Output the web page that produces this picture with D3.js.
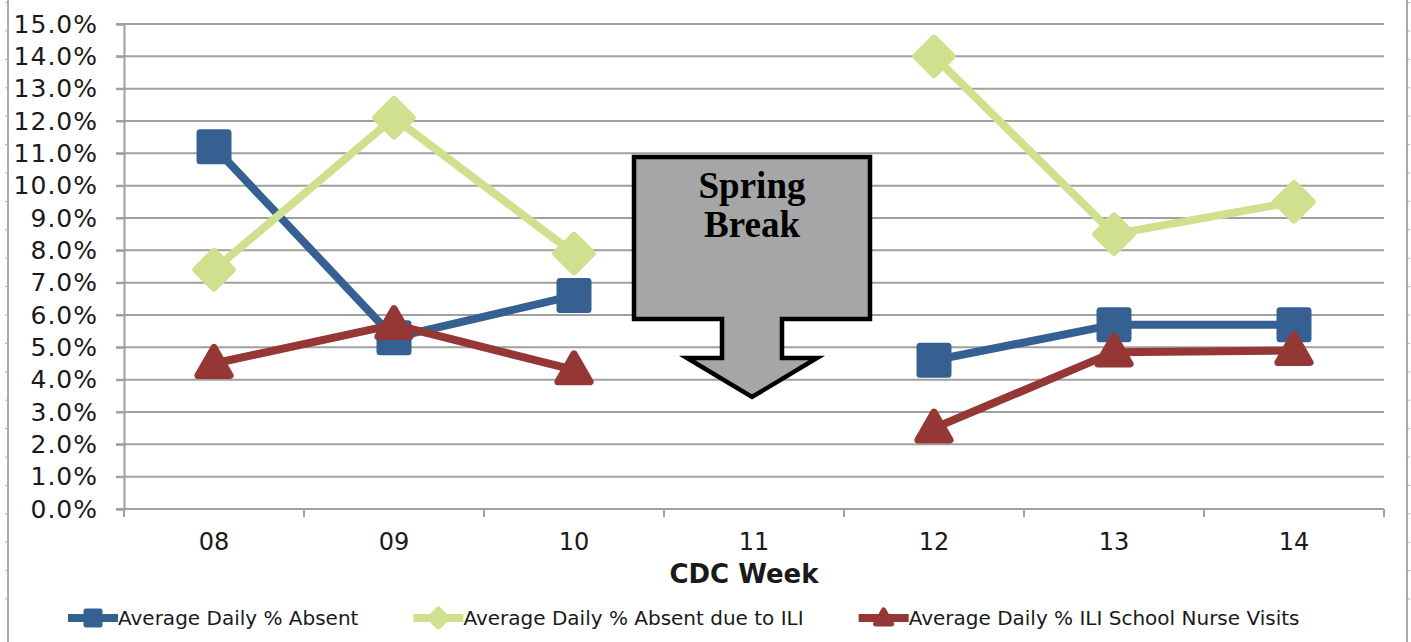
<!DOCTYPE html>
<html>
<head>
<meta charset="utf-8">
<script src="https://cdn.jsdelivr.net/npm/d3@7"></script>
<style>
  body { margin: 0; background: #fff; }
  svg { display: block; }
  text { font-family: "DejaVu Sans", Verdana, sans-serif; fill: #1a1a1a; }
</style>
</head>
<body>
<svg id="chart" width="1411" height="642"></svg>
<script>
// data (percent values, null = no school)
var weeks = ["08", "09", "10", "11", "12", "13", "14"];
var absent = [11.2, 5.3, 6.6, null, 4.6, 5.7, 5.7];
var absentILI = [7.4, 12.1, 7.9, null, 14.0, 8.5, 9.5];
var nurseILI = [4.5, 5.7, 4.3, null, 2.5, 4.85, 4.9];
var yTicks = [0, 1, 2, 3, 4, 5, 6, 7, 8, 9, 10, 11, 12, 13, 14, 15];
var seriesNames = ["Average Daily % Absent", "Average Daily % Absent due to ILI", "Average Daily % ILI School Nurse Visits"];


var svg = d3.select("#chart");

var plotLeft = 124, plotRight = 1384, plotTop = 24, plotBottom = 509;

var x = d3.scaleBand()
  .domain(weeks)
  .range([plotLeft, plotRight]);

var y = d3.scaleLinear()
  .domain([0, 15])
  .range([plotBottom, plotTop]);

function xc(w) { return x(w) + x.bandwidth() / 2; }


/* page frame edges with their little ruler ticks */
function frameEdge(xPos, dir)
{
  var g = svg.append("g");
  g.append("line")
    .attr("x1", xPos).attr("x2", xPos)
    .attr("y1", 0).attr("y2", 642)
    .attr("stroke", "#8c8c8c").attr("stroke-width", 1.5);
  g.selectAll(".rt")
    .data(d3.range(0, 22))
    .join("line")
    .attr("x1", xPos).attr("x2", xPos + dir * 3)
    .attr("y1", function(i) { return 2.6 + i * 28.4; })
    .attr("y2", function(i) { return 2.6 + i * 28.4; })
    .attr("stroke", "#b0b0b0").attr("stroke-width", 1);
}
frameEdge(8, -1);
frameEdge(1407, 1);


/* gridlines */
svg.append("g")
  .selectAll("line")
  .data(yTicks)
  .join("line")
  .attr("x1", plotLeft - 8)
  .attr("x2", plotRight)
  .attr("y1", function(d) { return y(d); })
  .attr("y2", function(d) { return y(d); })
  .attr("stroke", "#a0a0a0")
  .attr("stroke-width", 2);

/* y axis */
var yAxis = svg.append("g")
  .attr("transform", "translate(" + plotLeft + ",0)")
  .call(d3.axisLeft(y).tickValues(yTicks).tickSize(8).tickPadding(18)
        .tickFormat(function(d) { return d.toFixed(1) + "%"; }));
yAxis.select(".domain").attr("stroke", "#a0a0a0").attr("stroke-width", 2);
yAxis.selectAll(".tick line").attr("stroke", "#a0a0a0").attr("stroke-width", 2);
yAxis.selectAll("text")
  .style("font-family", "'DejaVu Sans', Verdana, sans-serif")
  .style("font-size", "25px")
  .style("letter-spacing", "1px")
  .attr("fill", "#1a1a1a");

/* x axis: ticks at band edges, labels at centres */
var xAxis = svg.append("g")
  .attr("transform", "translate(0," + plotBottom + ")");
xAxis.append("line")
  .attr("x1", plotLeft).attr("x2", plotRight)
  .attr("stroke", "#a0a0a0").attr("stroke-width", 2);
xAxis.selectAll(".xt")
  .data(weeks.concat(["end"]))
  .join("line")
  .attr("x1", function(d) { return d == "end" ? plotRight : x(d); })
  .attr("x2", function(d) { return d == "end" ? plotRight : x(d); })
  .attr("y1", 0).attr("y2", 8)
  .attr("stroke", "#a0a0a0").attr("stroke-width", 2);
xAxis.selectAll(".xl")
  .data(weeks)
  .join("text")
  .attr("x", function(d) { return xc(d); })
  .attr("y", 41)
  .attr("text-anchor", "middle")
  .style("font-size", "24px")
  .text(function(d) { return d; });

svg.append("text")
  .attr("x", 744)
  .attr("y", 583)
  .attr("text-anchor", "middle")
  .style("font-size", "26px")
  .style("font-weight", "bold")
  .text("CDC Week");


/* marker shapes */
function markerPath(kind, s)
{
  var h = s / 2;
  if (kind == "square")
    return "M" + (-h) + "," + (-h) + "H" + h + "V" + h + "H" + (-h) + "Z";
  if (kind == "diamond")
    return "M0," + (-h * 1.3) + "L" + (h * 1.3) + ",0L0," + (h * 1.3) + "L" + (-h * 1.3) + ",0Z";
  return "M0," + (-h * 1.15) + "L" + (h * 1.15) + "," + (h * 0.85) + "L" + (-h * 1.15) + "," + (h * 0.85) + "Z";
}

var series = [
  { name: seriesNames[0], values: absent, color: "#366092", kind: "square" },
  { name: seriesNames[1], values: absentILI, color: "#cfe08f", kind: "diamond" },
  { name: seriesNames[2], values: nurseILI, color: "#953735", kind: "triangle" }
];

var line = d3.line()
  .defined(function(d) { return d.v != null; })
  .x(function(d) { return xc(d.w); })
  .y(function(d) { return y(d.v); });

series.forEach(function(s) {
  var pts = weeks.map(function(w, i) { return { w: w, v: s.values[i] }; });
  var g = svg.append("g");
  g.append("path")
    .datum(pts)
    .attr("fill", "none")
    .attr("stroke", s.color)
    .attr("stroke-width", 8)
    .attr("stroke-linejoin", "round")
    .attr("d", line);
  g.selectAll(".m")
    .data(pts.filter(function(d) { return d.v != null; }))
    .join("path")
    .attr("transform", function(d) { return "translate(" + xc(d.w) + "," + y(d.v) + ")"; })
    .attr("d", markerPath(s.kind, 28))
    .attr("fill", s.color)
    .attr("stroke", s.color)
    .attr("stroke-width", 7)
    .attr("stroke-linejoin", "round");
});


/* Spring Break arrow callout */
var cx = xc("11") - 2;
var arrow = [
  [cx - 118, 157], [cx + 118, 157], [cx + 118, 319], [cx + 30, 319], [cx + 30, 358],
  [cx + 65, 358], [cx, 397], [cx - 65, 358], [cx - 30, 358], [cx - 30, 319], [cx - 118, 319]
];
svg.append("path")
  .attr("d", d3.line()(arrow) + "Z")
  .attr("fill", "#a6a6a6")
  .attr("stroke", "#000")
  .attr("stroke-width", 4.5)
  .attr("stroke-linejoin", "miter");

["Spring", "Break"].forEach(function(t, i) {
  svg.append("text")
    .attr("x", cx)
    .attr("y", 198 + i * 39)
    .attr("text-anchor", "middle")
    .style("font-family", "'Liberation Serif', 'Times New Roman', serif")
    .style("font-weight", "bold")
    .style("font-size", "37px")
    .style("fill", "#000")
    .text(t);
});


/* legend */
var legend = svg.append("g");
var lx = 68, ly = 618;
series.forEach(function(s) {
  legend.append("line")
    .attr("x1", lx).attr("x2", lx + 50)
    .attr("y1", ly).attr("y2", ly)
    .attr("stroke", s.color).attr("stroke-width", 8);
  legend.append("path")
    .attr("transform", "translate(" + (lx + 25) + "," + ly + ")")
    .attr("d", markerPath(s.kind, 14))
    .attr("fill", s.color)
    .attr("stroke", s.color)
    .attr("stroke-width", 5)
    .attr("stroke-linejoin", "round");
  var t = legend.append("text")
    .attr("x", lx + 50)
    .attr("y", ly + 7)
    .style("font-size", "20px")
    .text(s.name);
  lx = lx + 50 + t.node().getComputedTextLength() + 55;
});
</script>
</body>
</html>
